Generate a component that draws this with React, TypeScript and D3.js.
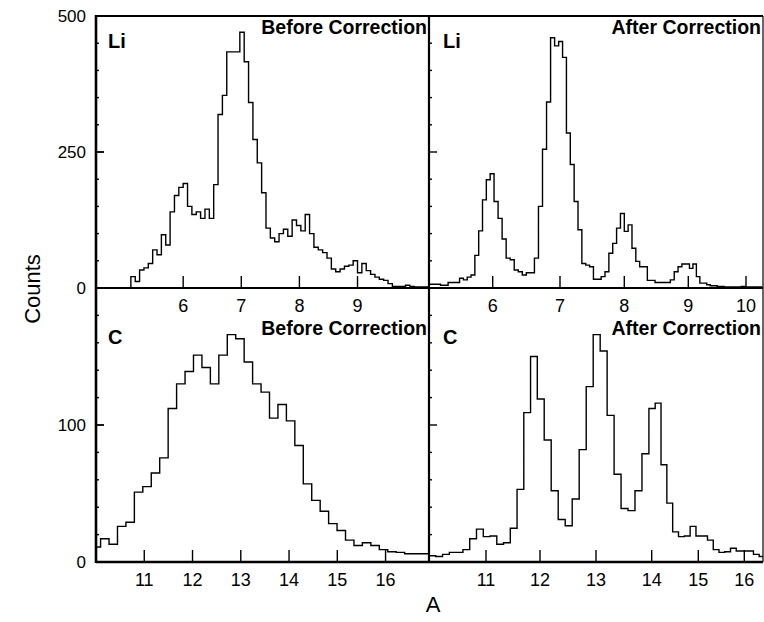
import * as d3 from "d3";

// Li histograms (counts per bin)
const liBeforeStart = 5.1;
const liBeforeWidth = 0.075;
const liBefore = [21, 12, 33, 37, 45, 70, 61, 98, 79, 140, 170, 185, 192, 150, 135, 140, 128, 145, 128, 190,
    319, 354, 434, 434, 434, 470, 416, 341, 273, 230, 175, 110, 92, 85, 100, 108, 95, 125, 115, 105,
    135, 100, 75, 70, 65, 55, 35, 30, 35, 40, 42, 50, 28, 45, 32, 25, 20, 16, 14, 8,
    3, 3, 3, 5, 3, 2, 2, 2, 2];

const liAfterStart = 5.0;
const liAfterWidth = 0.06;
const liAfter = [7, 7, 7, 5, 5, 10, 10, 10, 18, 15, 20, 24, 60, 105, 162, 199, 210, 159, 128, 90,
    55, 52, 33, 30, 24, 28, 28, 55, 150, 255, 342, 460, 445, 453, 424, 285, 227, 159, 107, 45,
    42, 39, 16, 16, 21, 30, 64, 82, 110, 137, 104, 116, 73, 49, 39, 39, 14, 14, 10, 10,
    10, 10, 15, 30, 39, 44, 44, 36, 44, 21, 9, 9, 6, 4, 4, 3, 3, 2, 2, 2,
    2, 2, 3, 2, 2, 2, 2, 2];

// C histograms
const cBeforeStart = 9.92;
const cBeforeWidth = 0.175;
const cBefore = [11, 17, 13, 26, 29, 51, 55, 65, 76, 112, 130, 139, 151, 142, 130, 151, 166, 163, 146, 130,
    124, 105, 115, 103, 85, 57, 45, 37, 28, 23, 16, 12, 14, 12, 9, 7.5, 7, 6, 6, 6, 6];

const cAfterStart = 9.95;
const cAfterWidth = 0.125;
const cAfter = [4.6, 4, 5.6, 7, 7, 9, 17, 24, 18.5, 19, 13, 14, 24.6, 53, 109, 150, 119, 89, 52, 31,
    26.5, 46, 82, 128, 166, 154, 107, 64, 39, 37.5, 52, 79, 112, 116, 71, 43, 22, 18.5, 19, 26,
    19, 19, 16, 9, 7, 7.5, 10, 8, 8, 8, 5.6, 4];

// axis ticks
const liBeforeTicks = [6, 7, 8, 9];
const liAfterTicks = [6, 7, 8, 9, 10];
const cTicks = [11, 12, 13, 14, 15, 16];
// the "after" A axes are not evenly spaced in the original
const liAfterDomain = [5, 6, 7, 8, 9, 10, 10.31];
const liAfterPos = [0, 63.7, 131, 195.3, 259.3, 317, 335];
const cAfterDomain = [9.95, 11, 12, 13, 14, 15, 16, 16.43];
const cAfterPos = [0, 57, 111, 167, 222.7, 269.3, 315.3, 335];

const W = 764, H = 622;
const left = 96, mid = 429, right = 763, top = 16, midY = 288, bottom = 562;
const font = "'Liberation Sans', Arial, sans-serif";

const yTop = d3.scaleLinear().domain([0, 500]).range([midY, top]);
const yBottom = d3.scaleLinear().domain([0, 200]).range([bottom, midY]);

function histPath(values, start, width, x, y) {
    const pts = [[start, 0]];
    values.forEach((v, i) => pts.push([start + i * width, v]));
    pts.push([start + values.length * width, values[values.length - 1]]);
    return d3.line().x(d => x(d[0])).y(d => y(d[1])).curve(d3.curveStepAfter)(pts);
}

const panels = [
    { id: "lb", x0: left, x1: mid, y: yTop, el: "Li", title: "Before Correction",
      x: d3.scaleLinear().domain([4.5, 10.23]).range([left, mid]),
      values: liBefore, start: liBeforeStart, width: liBeforeWidth, ticks: liBeforeTicks },
    { id: "la", x0: mid, x1: right, y: yTop, el: "Li", title: "After Correction",
      x: d3.scaleLinear().domain(liAfterDomain).range(liAfterPos.map(p => mid + p)),
      values: liAfter, start: liAfterStart, width: liAfterWidth, ticks: liAfterTicks },
    { id: "cb", x0: left, x1: mid, y: yBottom, el: "C", title: "Before Correction",
      x: d3.scaleLinear().domain([10, 16.9]).range([left, mid]),
      values: cBefore, start: cBeforeStart, width: cBeforeWidth, ticks: cTicks },
    { id: "ca", x0: mid, x1: right, y: yBottom, el: "C", title: "After Correction",
      x: d3.scaleLinear().domain(cAfterDomain).range(cAfterPos.map(p => mid + p)),
      values: cAfter, start: cAfterStart, width: cAfterWidth, ticks: cTicks },
];

function Panel({ p }) {
    const [yb, yt] = p.y.range();
    const minor = p.y === yTop ? d3.range(50, 500, 50) : d3.range(20, 200, 20);
    const major = p.y === yTop ? [250] : [100];
    return (
        <g>
            <clipPath id={`clip-${p.id}`}>
                <rect x={p.x0} y={yt} width={p.x1 - p.x0} height={yb - yt} />
            </clipPath>
            <path d={histPath(p.values, p.start, p.width, p.x, p.y)} fill="none" stroke="#000"
                strokeWidth={1.4} clipPath={`url(#clip-${p.id})`} />
            {p.ticks.map(t => (
                <line key={t} x1={p.x(t)} x2={p.x(t)} y1={yb} y2={yb - 12} stroke="#000" strokeWidth={1.4} />
            ))}
            {minor.map(v => (
                <line key={v} x1={p.x0} x2={p.x0 + (major.includes(v) ? 8 : 3)} y1={p.y(v)} y2={p.y(v)}
                    stroke="#000" strokeWidth={1.4} />
            ))}
            <text x={p.x0 + (p.x0 === left ? 12 : 14)} y={yt + (p.y === yTop ? 32 : 56)} fontFamily={font}
                fontWeight="bold" fontSize={20}>{p.el}</text>
            <text x={p.x1 - 2} y={yt + (p.y === yTop ? 18 : 47)} textAnchor="end" fontFamily={font}
                fontWeight="bold" fontSize={19.5}>{p.title}</text>
            {p.ticks.map(t => (
                <text key={`l${t}`} x={p.x(t)} y={yb + 24} textAnchor="middle" fontFamily={font}
                    fontSize={18}>{t}</text>
            ))}
        </g>
    );
}

export default function App() {
    const yLabels = [
        { v: 500, y: yTop }, { v: 250, y: yTop }, { v: 0, y: yTop },
        { v: 100, y: yBottom }, { v: 0, y: yBottom },
    ];
    return (
        <svg width={W} height={H} style={{ position: "absolute", left: 0, top: 0, background: "#fff" }}>
            {panels.map(p => <Panel key={p.id} p={p} />)}
            {/* frame */}
            <line x1={left} x2={left} y1={top - 1} y2={bottom + 1} stroke="#000" strokeWidth={2.6} />
            <line x1={left} x2={right} y1={bottom} y2={bottom} stroke="#000" strokeWidth={2.6} />
            <line x1={left} x2={right} y1={top} y2={top} stroke="#000" strokeWidth={2.2} />
            <line x1={left} x2={right} y1={midY} y2={midY} stroke="#000" strokeWidth={2.2} />
            <line x1={mid} x2={mid} y1={top} y2={bottom} stroke="#000" strokeWidth={2.2} />
            <line x1={right} x2={right} y1={top} y2={bottom} stroke="#000" strokeWidth={1.2} />
            {yLabels.map((d, i) => (
                <g key={i}>
                    <line x1={left - 1} x2={left + 8} y1={d.y(d.v)} y2={d.y(d.v)} stroke="#000" strokeWidth={1.4} />
                    <text x={86} y={d.y(d.v)} dy="0.35em" textAnchor="end" fontFamily={font} fontSize={17}>{d.v}</text>
                </g>
            ))}
            <text transform={`translate(40,${(top + bottom) / 2}) rotate(-90)`} textAnchor="middle"
                fontFamily={font} fontSize={22}>Counts</text>
            <text x={433} y={612} textAnchor="middle" fontFamily={font} fontSize={22}>A</text>
        </svg>
    );
}
